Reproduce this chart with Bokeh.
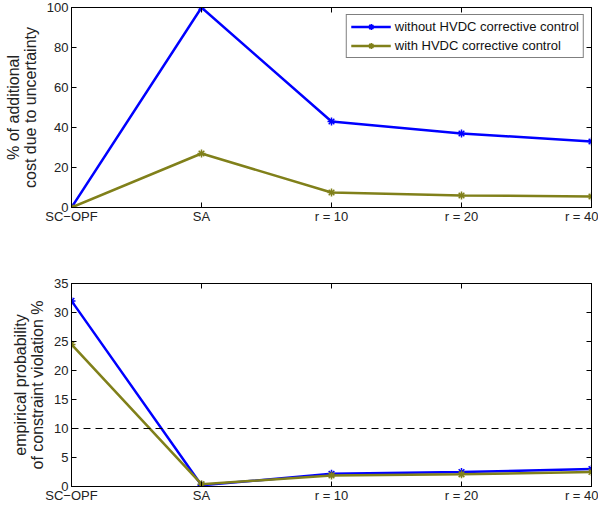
from bokeh.plotting import figure
from bokeh.layouts import column
from bokeh.models import (Range1d, FixedTicker, LinearAxis, Span, Legend, LegendItem,
                          CustomJSTickFormatter)
from bokeh.embed import file_html
from bokeh.resources import INLINE

categories = ["SC\u2212OPF", "SA", "r = 10", "r = 20", "r = 40"]
xpos = [1, 2, 3, 4, 5]

cost_without = [0, 100, 43, 37, 33]
cost_with = [0, 27, 7.5, 6, 5.5]

viol_without = [32, 0.2, 2.2, 2.5, 3.0]
viol_with = [24.5, 0.4, 1.9, 2.1, 2.5]

threshold = 10

BLUE = "#0000ff"
OLIVE = "#80801a"
FONT = "Liberation Sans"

def style_axis(ax, labels=True, standoff=3):
    ax.major_tick_in = 5
    ax.major_tick_out = 0
    ax.minor_tick_in = 0
    ax.minor_tick_out = 0
    ax.axis_line_color = "black"
    ax.axis_line_width = 1
    ax.major_tick_line_color = "black"
    ax.major_label_text_font = FONT
    ax.major_label_text_font_size = "13px"
    ax.major_label_text_color = "#222222"
    ax.major_label_standoff = standoff
    if not labels:
        ax.formatter = CustomJSTickFormatter(code='return ""')
        ax.major_label_standoff = 0
        ax.major_label_text_font_size = "1px"

def make_fig(height, ymax, yticks, ylabel, top, bottom):
    p = figure(width=598, height=height, output_backend="svg", toolbar_location=None,
               x_range=Range1d(1, 5), y_range=Range1d(0, ymax),
               min_border_left=71, min_border_right=7, min_border_top=top,
               min_border_bottom=bottom)
    p.xgrid.visible = False
    p.ygrid.visible = False
    p.outline_line_color = "black"
    p.outline_line_width = 1
    p.background_fill_color = "white"
    p.border_fill_color = "white"
    p.xaxis.ticker = FixedTicker(ticks=xpos)
    p.xaxis.major_label_overrides = {x: c for x, c in zip(xpos, categories)}
    p.yaxis.ticker = FixedTicker(ticks=yticks)
    style_axis(p.xaxis[0], standoff=1)
    style_axis(p.yaxis[0])
    p.yaxis.axis_label = ylabel
    p.yaxis.axis_label_text_font = FONT
    p.yaxis.axis_label_text_font_style = "normal"
    p.yaxis.axis_label_text_font_size = "16px"
    p.yaxis.axis_label_text_color = "#222222"
    p.yaxis.axis_label_text_line_height = 1.0
    p.yaxis.axis_label_standoff = 5
    ra = LinearAxis(ticker=FixedTicker(ticks=yticks))
    style_axis(ra, labels=False)
    p.add_layout(ra, "right")
    ta = LinearAxis(ticker=FixedTicker(ticks=xpos))
    style_axis(ta, labels=False)
    p.add_layout(ta, "above")
    return p

def draw(p, ys, color):
    l = p.line(xpos, ys, line_color=color, line_width=2.5)
    m = p.scatter(xpos, ys, marker="asterisk", size=8, line_color=color, line_width=1.5)
    return l, m

p1 = make_fig(240, 100, [0, 20, 40, 60, 80, 100],
              "% of additional\ncost due to uncertainty", 7, 33)
r1l, r1m = draw(p1, cost_without, BLUE)
r2l, r2m = draw(p1, cost_with, OLIVE)
legend = Legend(items=[
    LegendItem(label="without HVDC corrective control", renderers=[r1l, r1m]),
    LegendItem(label="with HVDC corrective control", renderers=[r2l, r2m]),
], location="top_right")
legend.border_line_color = "black"
legend.border_line_width = 1
legend.label_text_font = FONT
legend.label_text_font_size = "13px"
legend.label_text_color = "#111111"
legend.glyph_width = 40
legend.glyph_height = 15
legend.label_height = 15
legend.spacing = 4
legend.padding = 4
legend.margin = 7
legend.label_standoff = 4
legend.background_fill_alpha = 1
p1.add_layout(legend)

p2 = make_fig(265, 35, [0, 5, 10, 15, 20, 25, 30, 35],
              "empirical probability\nof constraint violation %", 43, 16)
p2.add_layout(Span(location=threshold, dimension="width", line_color="black",
                   line_dash="7 5", line_width=1))
draw(p2, viol_without, BLUE)
draw(p2, viol_with, OLIVE)

layout = column(p1, p2, spacing=0)
open("out.html", "w").write(file_html(layout, INLINE))
